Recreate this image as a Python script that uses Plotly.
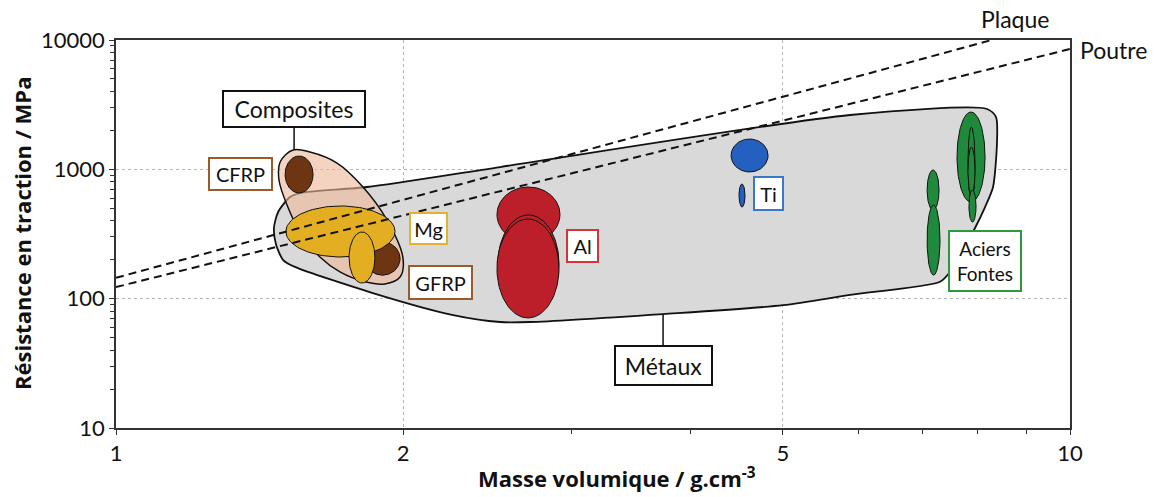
import numpy as np
import plotly.graph_objects as go

# ---- axes ----
density_ticks = [1, 2, 5, 10]
density_minor = [3, 4, 6, 7, 8, 9]
strength_ticks = [10, 100, 1000, 10000]
strength_minor = [20, 30, 40, 50, 60, 70, 80, 90,
                  200, 300, 400, 500, 600, 700, 800, 900,
                  2000, 3000, 4000, 5000, 6000, 7000, 8000, 9000]

# ---- family envelopes (density g/cm3, strength MPa) ----
metaux_rho = [2.527, 5.882, 8.185, 8.365, 8.386, 8.305, 8.146, 7.951, 7.485, 7.307,
              5.882, 5.003, 3.745, 2.716, 2.527, 2.250, 1.855, 1.540, 1.497, 1.472,
              1.464, 1.479, 1.522, 1.559, 1.833, 2.527]
metaux_sigma = [1042, 2632, 2928, 2538, 1686, 730, 511, 352, 161, 135,
                107, 89, 76, 66, 66, 75, 111, 176, 199, 260,
                352, 468, 611, 656, 730, 1042]

composites_rho = [1.533, 1.597, 1.705, 1.815, 1.923, 1.999, 1.985, 1.914, 1.824,
                  1.717, 1.636, 1.559, 1.511, 1.482, 1.486, 1.533]
composites_sigma = [1411, 1361, 1119, 730, 406, 206, 147, 130, 135,
                    161, 210, 328, 530, 827, 1139, 1411]

# ---- material bubbles: density range and strength range ----
bubble_family = ["CFRP", "GFRP", "Mg", "Mg", "Al", "Al", "Al", "Ti", "Ti",
                 "Acier", "Acier", "Acier", "Acier", "Fonte", "Fonte"]
bubble_rho_min = [1.504, 1.824, 1.507, 1.755, 2.508, 2.514, 2.508, 4.413, 4.498,
                  7.613, 7.817, 7.817, 7.835, 7.083, 7.083]
bubble_rho_max = [1.609, 1.985, 1.961, 1.868, 2.920, 2.913, 2.913, 4.825, 4.564,
                  8.146, 7.951, 7.951, 7.971, 7.290, 7.307]
bubble_sigma_min = [656, 152, 210, 132, 274, 79, 71, 954, 511,
                    559, 579, 633, 391, 485, 152]
bubble_sigma_max = [1268, 274, 521, 328, 730, 444, 413, 1716, 770,
                    2776, 2125, 1488, 692, 988, 530]

# ---- performance index lines ----
plaque_rho = [1, 8.28]
plaque_sigma = [145, 10000]
poutre_rho = [1, 10]
poutre_sigma = [123, 8515]

family_fill = {"CFRP": "#6e3513", "GFRP": "#6e3513", "Mg": "#e3ae22", "Al": "#bd1f2a",
               "Ti": "#2360bf", "Acier": "#1f8a3b", "Fonte": "#1f8a3b"}

FONT = "Lato, 'Open Sans', sans-serif"
BOLD_FONT = "'Open Sans', Lato, sans-serif"


def ellipse(r0, r1, s0, s1, n=120):
    """Axis-aligned ellipse in log-log space spanning the given ranges."""
    cx, rx = (np.log10(r0) + np.log10(r1)) / 2, (np.log10(r1) - np.log10(r0)) / 2
    cy, ry = (np.log10(s0) + np.log10(s1)) / 2, (np.log10(s1) - np.log10(s0)) / 2
    t = np.linspace(0, 2 * np.pi, n)
    return 10 ** (cx + rx * np.cos(t)), 10 ** (cy + ry * np.sin(t))


fig = go.Figure()

# metals envelope
fig.add_trace(go.Scatter(x=metaux_rho, y=metaux_sigma, mode="lines", fill="toself",
                         fillcolor="#d9d9d9", line=dict(color="#111", width=1.8, shape="spline", smoothing=0.7),
                         hoverinfo="skip"))
# composites envelope
fig.add_trace(go.Scatter(x=composites_rho, y=composites_sigma, mode="lines", fill="toself",
                         fillcolor="rgba(238,185,155,0.62)",
                         line=dict(color="#111", width=1.5, shape="spline", smoothing=1.0),
                         hoverinfo="skip"))

for fam, r0, r1, s0, s1 in zip(bubble_family, bubble_rho_min, bubble_rho_max,
                               bubble_sigma_min, bubble_sigma_max):
    ex, ey = ellipse(r0, r1, s0, s1)
    fig.add_trace(go.Scatter(x=ex, y=ey, mode="lines", fill="toself",
                             fillcolor=family_fill[fam], line=dict(color="#111", width=1),
                             hoverinfo="skip"))

# index lines
for rx, sy in ((plaque_rho, plaque_sigma), (poutre_rho, poutre_sigma)):
    fig.add_trace(go.Scatter(x=rx, y=sy, mode="lines",
                             line=dict(color="#111", width=2, dash="8px,5px"), hoverinfo="skip"))


def lg(v):
    return float(np.log10(v))


def box(text, x, y, color, w, h, size=20):
    return dict(x=lg(x), y=lg(y), xref="x", yref="y", text=text, showarrow=False,
                font=dict(family=FONT, size=size, color="#111"), bgcolor="white",
                bordercolor=color, borderwidth=2, borderpad=0, width=w, height=h)


def paper_text(text, x, y, size, family=FONT, angle=0):
    return dict(x=x, y=y, xref="paper", yref="paper", text=text, showarrow=False,
                xanchor="center", yanchor="middle", textangle=angle,
                font=dict(family=family, size=size, color="#111"))


annotations = [
    box("CFRP", 1.352, 920, "#9a5a2c", 61, 30),
    box("Mg", 2.127, 349, "#e3b22e", 35, 29),
    box("GFRP", 2.191, 133, "#9a5a2c", 61, 31),
    box("Al", 3.083, 255, "#d0353a", 29, 30),
    box("Ti", 4.830, 650, "#3b78c8", 27, 31),
    box("Aciers<br>Fontes", 8.146, 196, "#2b9a3c", 70, 58, size=19),
    dict(x=lg(1.537), y=lg(1411), xref="x", yref="y", text="Composites", showarrow=True,
         arrowhead=0, arrowwidth=1.5, arrowcolor="#111", ax=0, ay=-41,
         font=dict(family=FONT, size=23, color="#111"), bgcolor="white",
         bordercolor="#111", borderwidth=2, borderpad=0, width=140, height=34),
    dict(x=lg(3.745), y=lg(76), xref="x", yref="y", text="Métaux", showarrow=True,
         arrowhead=0, arrowwidth=1.5, arrowcolor="#111", ax=0, ay=51,
         font=dict(family=FONT, size=23, color="#111"), bgcolor="white",
         bordercolor="#111", borderwidth=2, borderpad=0, width=95, height=37),
    # index line names, placed just past the plot frame
    paper_text("Plaque", 0.9423, 1.054, 23),
    paper_text("Poutre", 1.0451, 0.974, 23),
    # axis titles
    paper_text("<b>Masse volumique / g.cm<sup>-3</sup></b>", 0.525, -0.128, 22, BOLD_FONT),
    paper_text("<b>Résistance en traction / MPa</b>", -0.0985, 0.5, 22, BOLD_FONT, -90),
]

axis_common = dict(type="log", showgrid=True, gridcolor="#b5b5b5", gridwidth=1, griddash="3px,3px",
                   showline=True, mirror=True, linecolor="#333", linewidth=1.5,
                   ticks="outside", ticklen=5, tickcolor="#333", tickwidth=1,
                   tickfont=dict(family=FONT, size=22, color="#111"), zeroline=False)

fig.update_layout(
    width=1157, height=497,
    margin=dict(l=116, r=87, t=40, b=69),
    paper_bgcolor="white", plot_bgcolor="white",
    showlegend=False,
    xaxis=dict(range=[0, 1], tickmode="array", tickvals=density_ticks,
               ticktext=[str(v) for v in density_ticks],
               minor=dict(tickmode="array", tickvals=density_minor, ticks="outside",
                          ticklen=4, tickcolor="#333", showgrid=False),
               **axis_common),
    yaxis=dict(range=[1, 4], tickmode="array", tickvals=strength_ticks,
               ticktext=[str(v) for v in strength_ticks],
               minor=dict(tickmode="array", tickvals=strength_minor, ticks="outside",
                          ticklen=4, tickcolor="#333", showgrid=False),
               **axis_common),
    annotations=annotations,
)

fig.write_html("out.html")
